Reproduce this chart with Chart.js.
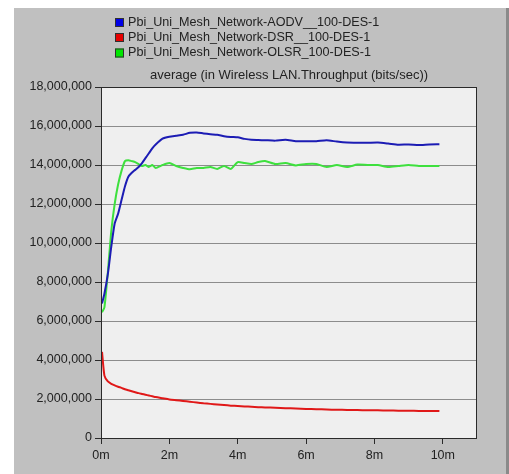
<!DOCTYPE html>
<html>
<head>
<meta charset="utf-8">
<script src="https://cdn.jsdelivr.net/npm/chart.js@4/dist/chart.umd.min.js"></script>
<style>
  html, body { margin: 0; padding: 0; background: #ffffff; }
  #wrap { width: 509px; height: 474px; }
</style>
</head>
<body>
<div id="wrap"><canvas id="c" width="509" height="474"></canvas></div>
<script>
// Simulation time (minutes) at which each average was sampled
const times = [0.03,0.1,0.2,0.3,0.4,0.5,0.6,0.7,0.8,0.9,1.0,1.1,1.2,1.3,1.4,1.5,1.6,1.8,2.0,2.2,2.4,2.6,2.8,3.0,3.2,3.4,3.6,3.8,4.0,4.2,4.4,4.6,4.8,5.1,5.4,5.7,6.0,6.3,6.6,6.9,7.2,7.5,7.8,8.1,8.4,8.7,9.0,9.3,9.6,9.9];

// Average Wireless LAN throughput (bits/sec) per routing protocol
const aodv = [6900000,7400000,8400000,9800000,11000000,11500000,12200000,12900000,13400000,13600000,13750000,13900000,14100000,14350000,14600000,14850000,15050000,15350000,15450000,15500000,15550000,15650000,15670000,15620000,15580000,15550000,15480000,15440000,15420000,15340000,15290000,15280000,15270000,15250000,15290000,15220000,15220000,15220000,15270000,15200000,15150000,15140000,15140000,15150000,15100000,15040000,15050000,15020000,15050000,15060000];
const dsr = [4420000,3200000,2900000,2780000,2700000,2630000,2570000,2500000,2450000,2400000,2350000,2300000,2260000,2220000,2180000,2140000,2100000,2040000,1980000,1940000,1900000,1860000,1820000,1780000,1750000,1720000,1690000,1660000,1640000,1620000,1600000,1580000,1570000,1550000,1530000,1510000,1490000,1480000,1460000,1450000,1440000,1430000,1420000,1420000,1410000,1400000,1400000,1390000,1390000,1380000];
const olsr = [6450000,6700000,8500000,10600000,12000000,13000000,13700000,14200000,14250000,14200000,14150000,14050000,13950000,14000000,13900000,14000000,13850000,14000000,14100000,13950000,13850000,13780000,13850000,13850000,13900000,13800000,13950000,13800000,14150000,14100000,14050000,14150000,14200000,14050000,14100000,13980000,14050000,14050000,13900000,14000000,13900000,14020000,14000000,14000000,13900000,13950000,14000000,13950000,13950000,13950000];

const seriesNames = [
  "Pbi_Uni_Mesh_Network-AODV__100-DES-1",
  "Pbi_Uni_Mesh_Network-DSR__100-DES-1",
  "Pbi_Uni_Mesh_Network-OLSR_100-DES-1"
];
const lineColors = ["#1c1cb4", "#e01818", "#3ee03e"];
const keyColors = ["#0000e6", "#e60000", "#00e600"];
const chartTitle = "average (in Wireless LAN.Throughput (bits/sec))";
const xTickValues = [0, 2, 4, 6, 8, 10];

const FONT = "'Liberation Sans', Arial, sans-serif";
const TEXT = '#222222';

function toPoints(vals) {
  return vals.map((v, i) => ({ x: times[i], y: v }));
}

// Grey panel, plot background, frame, legend keys and the title
const panelPlugin = {
  id: 'panel',
  beforeDraw(chart) {
    const ctx = chart.ctx;
    const a = chart.chartArea;
    ctx.save();
    ctx.fillStyle = '#ffffff';
    ctx.fillRect(0, 0, chart.width, chart.height);
    ctx.fillStyle = '#c0c0c0';
    ctx.fillRect(14, 8, 493, chart.height - 8);
    ctx.fillStyle = '#8a8a8a';
    ctx.fillRect(506, 8, 3, chart.height - 8);
    ctx.fillStyle = '#efefef';
    ctx.fillRect(a.left, a.top, a.right - a.left, a.bottom - a.top);
    ctx.restore();
  },
  afterDraw(chart) {
    const ctx = chart.ctx;
    const a = chart.chartArea;
    ctx.save();
    ctx.strokeStyle = '#2a2a2a';
    ctx.lineWidth = 1;
    ctx.strokeRect(a.left + 0.5, a.top + 0.5, a.right - a.left - 1, a.bottom - a.top);

    ctx.font = '12.6px ' + FONT;
    ctx.textBaseline = 'middle';
    ctx.textAlign = 'left';
    const rows = [22.5, 37.5, 53];
    seriesNames.forEach((name, i) => {
      ctx.fillStyle = keyColors[i];
      ctx.fillRect(115, rows[i] - 4.5, 9, 9);
      ctx.strokeStyle = '#303030';
      ctx.strokeRect(115.5, rows[i] - 4, 8, 8);
      ctx.fillStyle = TEXT;
      ctx.fillText(name, 128, rows[i]);
    });

    ctx.font = '13px ' + FONT;
    ctx.textAlign = 'center';
    ctx.fillText(chartTitle, (a.left + a.right) / 2, 75.5);
    ctx.restore();
  }
};

new Chart(document.getElementById('c'), {
  type: 'line',
  data: {
    datasets: [
      { label: seriesNames[0], data: toPoints(aodv), borderColor: lineColors[0] },
      { label: seriesNames[1], data: toPoints(dsr), borderColor: lineColors[1] },
      { label: seriesNames[2], data: toPoints(olsr), borderColor: lineColors[2] }
    ].map(d => Object.assign(d, { borderWidth: 2, pointRadius: 0, tension: 0.2, fill: false }))
  },
  options: {
    responsive: false,
    animation: false,
    layout: { padding: { top: 87, right: 32, left: 0, bottom: 0 } },
    plugins: { legend: { display: false }, title: { display: false }, tooltip: { enabled: false } },
    scales: {
      x: {
        type: 'linear',
        min: 0,
        max: 11,
        afterBuildTicks(scale) { scale.ticks = xTickValues.map(v => ({ value: v })); },
        afterFit(scale) { scale.height = 36; },
        grid: { drawOnChartArea: false, drawTicks: true, tickLength: 6, tickColor: '#2a2a2a' },
        border: { display: false },
        ticks: {
          padding: 4,
          color: TEXT,
          font: { family: FONT, size: 12.5 },
          maxRotation: 0,
          callback: v => v + 'm'
        }
      },
      y: {
        min: 0,
        max: 18000000,
        afterFit(scale) { scale.width = 101; },
        grid: { color: '#8c8c8c', lineWidth: 1, tickLength: 6, tickColor: '#2a2a2a' },
        border: { display: false },
        ticks: {
          stepSize: 2000000,
          padding: 3,
          color: TEXT,
          font: { family: FONT, size: 12.5 },
          callback: v => v.toLocaleString('en-US')
        }
      }
    }
  },
  plugins: [panelPlugin]
});
</script>
</body>
</html>
